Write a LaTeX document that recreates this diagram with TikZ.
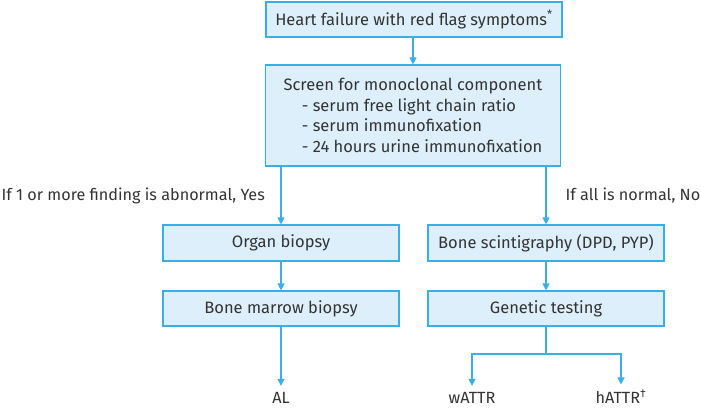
\documentclass[tikz,border=0pt]{standalone}
\usepackage{fontspec}
\setmainfont{Fira Sans}
\usetikzlibrary{arrows.meta}
\definecolor{boxfill}{HTML}{DCEFFA}
\definecolor{boxline}{HTML}{3AAEE6}
\definecolor{txt}{HTML}{333333}

\begin{document}
\begin{tikzpicture}[x=1pt, y=-1pt,
  bx/.style={draw=boxline, fill=boxfill, line width=1.2pt, minimum width=236pt, minimum height=36pt, align=center, font=\fontsize{16.5}{20.7}\selectfont, text=txt, inner sep=0pt},
  lbl/.style={font=\fontsize{16.2}{18}\selectfont, text=txt, inner sep=0pt},
  >={Triangle[width=7pt,length=7pt]}, line width=1.2pt
]
  \useasboundingbox (0,0) rectangle (701,407);

  \node[bx, minimum width=296pt, minimum height=35pt] (hf) at (414,19.5) {Heart failure with red flag symptoms\textsuperscript{*}};
  \node[bx, minimum width=295pt, minimum height=101pt, align=left] (screen) at (413,115.5)
    {Screen for monoclonal component\\
     \hspace{1.1em}- serum free light chain ratio\\
     \hspace{1.1em}- serum immunofixation\\
     \hspace{1.1em}- 24 hours urine immunofixation};

  \node[bx] (organ) at (281,243) {Organ biopsy};
  \node[bx] (bone) at (546,243) {Bone scintigraphy (DPD, PYP)};
  \node[bx, minimum height=35pt] (marrow) at (281,308.5) {Bone marrow biopsy};
  \node[bx, minimum height=35pt] (gen) at (546,308.5) {Genetic testing};

  \node[lbl, anchor=west] (yes) at (1,196) {If 1 or more finding is abnormal, Yes};
  \node[lbl, anchor=west] (no) at (565,196) {If all is normal, No};

  \node[lbl] (al) at (281,398) {AL};
  \node[lbl] (watt) at (472,398) {wATTR};
  \node[lbl] (hatt) at (621,397) {hATTR\textsuperscript{\dag}};

  \coordinate (split) at (546,354);

  \draw[->, boxline] (hf.south -| screen) -- (screen);
  \draw[->, boxline] (organ |- screen.south) -- (organ);
  \draw[->, boxline] (bone |- screen.south) -- (bone);
  \draw[->, boxline] (organ) -- (marrow);
  \draw[->, boxline] (bone) -- (gen);
  \draw[->, boxline] (marrow) -- ([yshift=6pt]al.north);
  \draw[boxline] (gen) -- (split);
  \draw[->, boxline] (split) -| ([yshift=6pt]watt.north);
  \draw[->, boxline] (split) -| ([yshift=5pt]hatt.north);
\end{tikzpicture}
\end{document}
